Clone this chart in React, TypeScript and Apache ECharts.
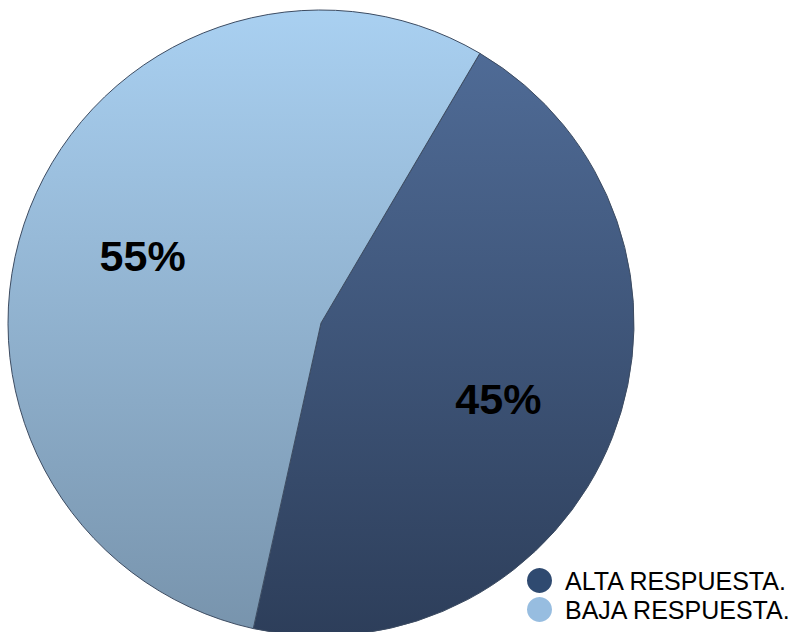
import React, { useEffect, useRef } from "react";
import * as echarts from "echarts";

const categories = ["ALTA RESPUESTA.", "BAJA RESPUESTA."];
const values = [45, 55];
const labelTexts = ["45%", "55%"];

export default function App() {
  const ref = useRef<HTMLDivElement>(null);
  useEffect(() => {
    if (!ref.current) return;
    const chart = echarts.init(ref.current, null, { renderer: "svg" });
    const grads = [
      new echarts.graphic.LinearGradient(0, 0, 0, 1, [
        { offset: 0, color: "#4f6b96" },
        { offset: 1, color: "#2d3e5a" },
      ]),
      new echarts.graphic.LinearGradient(0, 0, 0, 1, [
        { offset: 0, color: "#a9d0f1" },
        { offset: 1, color: "#7894ad" },
      ]),
    ];
    const legendColors = ["#2f4a70", "#97bde0"];
    const offsets = [
      [29, 18],
      [-30, -9],
    ];
    chart.setOption({
      animation: false,
      legend: {
        orient: "vertical",
        left: 527,
        top: 568,
        padding: 0,
        itemGap: 4,
        itemWidth: 25,
        itemHeight: 25,
        icon: "circle",
        selectedMode: false,
        itemStyle: { borderWidth: 0 },
        data: categories.map((c, i) => ({
          name: c,
          itemStyle: { color: legendColors[i], borderWidth: 0 },
        })),
        textStyle: {
          fontSize: 25,
          fontFamily: "Liberation Sans, Arial, sans-serif",
          color: "#000",
          padding: [0, 0, 0, 8],
        },
      },
      series: [
        {
          type: "pie",
          center: [321, 323],
          radius: [0, 313],
          startAngle: 59.5,
          clockwise: true,
          silent: true,
          data: categories.map((c, i) => ({
            name: c,
            value: values[i],
            itemStyle: { color: grads[i] },
            label: { offset: offsets[i] },
          })),
          itemStyle: { borderColor: "#3d4c62", borderWidth: 1 },
          label: {
            show: true,
            position: "inside",
            formatter: (p: any) => labelTexts[p.dataIndex],
            fontSize: 43,
            fontWeight: "bold",
            fontFamily: "Liberation Sans, Arial, sans-serif",
            color: "#000",
          },
          labelLine: { show: false },
        },
      ],
    });
    return () => chart.dispose();
  }, []);
  return (
    <div
      ref={ref}
      style={{ position: "fixed", left: 0, top: 0, width: 796, height: 632, background: "#fff" }}
    />
  );
}
